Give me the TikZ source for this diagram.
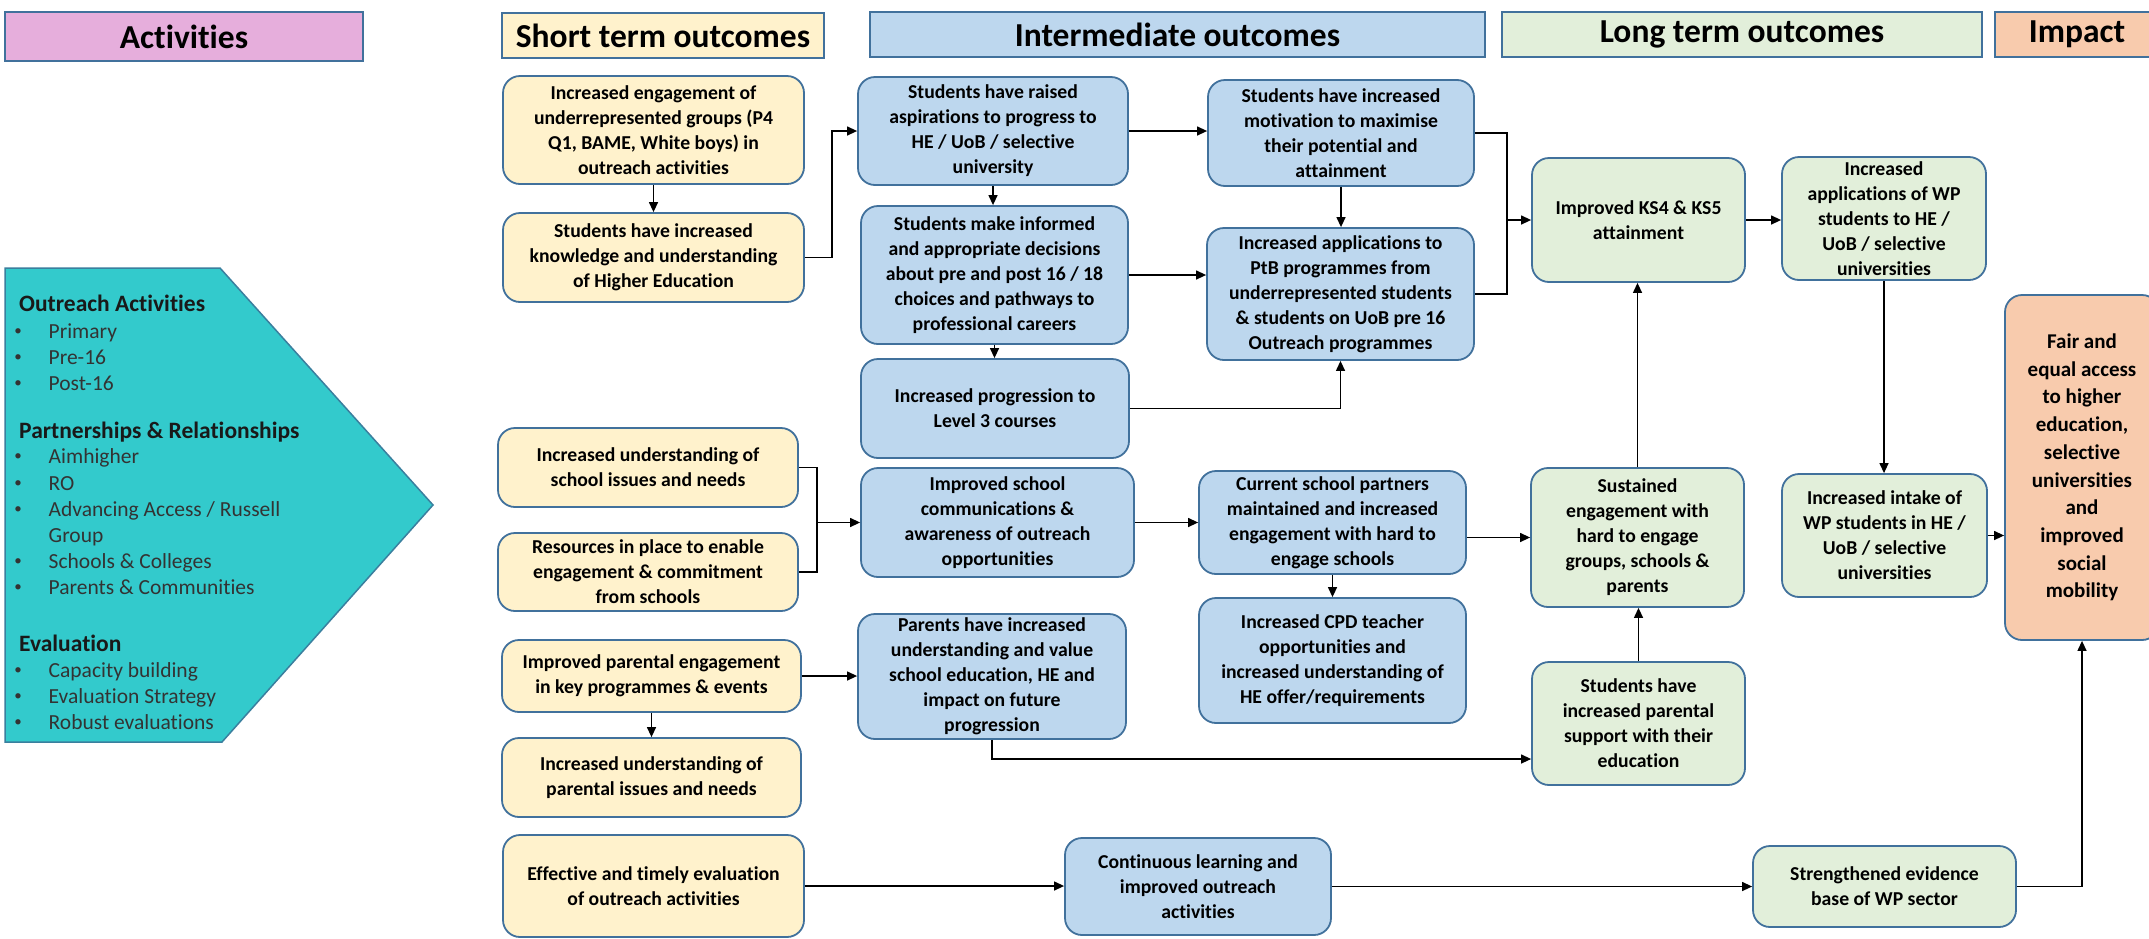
\documentclass[tikz,border=0pt]{standalone}
\usepackage{fontspec}
\setmainfont{Carlito}[Ligatures={NoCommon}]
\usetikzlibrary{arrows.meta,calc}

\definecolor{stYellow}{HTML}{FFF2CC}
\definecolor{stBlue}{HTML}{BDD7EE}
\definecolor{stGreen}{HTML}{E2EFDA}
\definecolor{stOrange}{HTML}{F8CBAD}
\definecolor{stPink}{HTML}{E6AEDC}
\definecolor{stTeal}{HTML}{33CACC}
\definecolor{edgeBlue}{HTML}{41719C}
\definecolor{chevEdge}{HTML}{3A7F9E}
\definecolor{itemGray}{HTML}{333333}

\begin{document}
\begin{tikzpicture}[x=1pt,y=-1pt,
  box/.style={draw=edgeBlue, line width=1.8pt, rounded corners=17pt, align=center,
    inner sep=0pt, font=\fontsize{19.7}{25}\selectfont\bfseries},
  ybox/.style={box, fill=stYellow},
  bbox/.style={box, fill=stBlue},
  gbox/.style={box, fill=stGreen},
  obox/.style={box, fill=stOrange, font=\fontsize{21}{27.7}\selectfont\bfseries},
  hdr/.style={draw=edgeBlue, line width=2pt, inner sep=0pt,
    font=\fontsize{33.5}{36}\selectfont\bfseries},
  arr/.style={line width=1.3pt, -{Triangle[length=10pt,width=9pt]}},
  link/.style={line width=1.3pt},
  chevhead/.style={anchor=base west, inner sep=0pt, font=\fontsize{23.5}{26}\selectfont\bfseries, text=black!90},
  chevitem/.style={anchor=base west, inner sep=0pt, font=\fontsize{21.5}{26}\selectfont, text=itemGray},
  chevdot/.style={anchor=base, inner sep=0pt, font=\fontsize{15}{26}\selectfont, text=itemGray}
]
\useasboundingbox (0,0) rectangle (2149,938);
\fill[white] (0,0) rectangle (2149,938);

% ---------- column headers ----------
\node[hdr, fill=stPink,   minimum width=358pt, minimum height=49pt] (HA) at (184,36.5)   {Activities};
\node[hdr, fill=stYellow, minimum width=322pt, minimum height=45pt] (HS) at (663,35.5)   {Short term outcomes};
\node[hdr, fill=stBlue,   minimum width=615pt, minimum height=45pt] (HI) at (1177.5,34.5) {Intermediate outcomes};
\node[hdr, fill=stGreen,  minimum width=480pt, minimum height=45pt] (HL) at (1742,34.5)   {Long term outcomes};
\node[hdr, fill=stOrange, minimum width=164pt, minimum height=45pt] (HM) at (2077,34.5)   {Impact};

% ---------- activities chevron ----------
\draw[fill=stTeal, draw=chevEdge, line width=1.5pt]
  (5,268) -- (220,268) -- (433,505) -- (222,742) -- (5,742) -- cycle;
\node[chevhead] (ca) at (19,311) {Outreach Activities};
\node[chevhead] (cb) at (19,438) {Partnerships \& Relationships};
\node[chevhead] (cc) at (19,651) {Evaluation};
\foreach \yy/\txt/\nm in {338/Primary/a1, 364/Pre-16/a2, 390/Post-16/a3,
    463/Aimhigher/b1, 490/RO/b2, 516/{Advancing Access / Russell}/b3,
    568/Schools \& Colleges/b4, 594/Parents \& Communities/b5,
    677/Capacity building/c1, 703/Evaluation Strategy/c2, 729/Robust evaluations/c3}{
  \node[chevdot] (d\nm) at (18,\yy-3) {•};
  \node[chevitem] (t\nm) at (48.5,\yy) {\txt};
}
\node[chevitem] (tb3b) at (48.5,542) {Group};

% ---------- short term outcomes ----------
\node[ybox, minimum width=301pt, minimum height=108pt] (S1) at (653.5,130)
  {Increased engagement of\\underrepresented groups (P4\\Q1, BAME, White boys) in\\outreach activities};
\node[ybox, minimum width=301pt, minimum height=89pt] (S2) at (653.5,257.5)
  {Students have increased\\knowledge and understanding\\of Higher Education};
\node[ybox, minimum width=300pt, minimum height=79pt] (S3) at (648,467.5)
  {Increased understanding of\\school issues and needs};
\node[ybox, minimum width=300pt, minimum height=78pt] (S4) at (648,572)
  {Resources in place to enable\\engagement \& commitment\\from schools};
\node[ybox, minimum width=299pt, minimum height=72pt] (S5) at (651.5,676)
  {Improved parental engagement\\in key programmes \& events};
\node[ybox, minimum width=299pt, minimum height=79pt] (S6) at (651.5,777.5)
  {Increased understanding of\\parental issues and needs};
\node[ybox, minimum width=301pt, minimum height=102pt] (S7) at (653.5,886)
  {Effective and timely evaluation\\of outreach activities};

% ---------- intermediate outcomes ----------
\node[bbox, minimum width=270pt, minimum height=108pt] (I1) at (993,131)
  {Students have raised\\aspirations to progress to\\HE / UoB / selective\\university};
\node[bbox, minimum width=267pt, minimum height=138pt] (I2) at (994.5,275)
  {Students make informed\\and appropriate decisions\\about pre and post 16 / 18\\choices and pathways to\\professional careers};
\node[bbox, minimum width=268pt, minimum height=99pt] (I3) at (995,408.5)
  {Increased progression to\\Level 3 courses};
\node[bbox, minimum width=273pt, minimum height=109pt] (I4) at (997.5,522.5)
  {Improved school\\communications \&\\awareness of outreach\\opportunities};
\node[bbox, minimum width=268pt, minimum height=125pt] (I5) at (992,676.5)
  {Parents have increased\\understanding and value\\school education, HE and\\impact on future\\progression};
\node[bbox, minimum width=266pt, minimum height=97pt] (I6) at (1198,886.5)
  {Continuous learning and\\improved outreach\\activities};
\node[bbox, minimum width=266pt, minimum height=106pt] (I7) at (1341,133)
  {Students have increased\\motivation to maximise\\their potential and\\attainment};
\node[bbox, minimum width=267pt, minimum height=132pt] (I8) at (1340.5,294)
  {Increased applications to\\PtB programmes from\\underrepresented students\\\& students on UoB pre 16\\Outreach programmes};
\node[bbox, minimum width=267pt, minimum height=103pt] (I9) at (1332.5,522.5)
  {Current school partners\\maintained and increased\\engagement with hard to\\engage schools};
\node[bbox, minimum width=267pt, minimum height=125pt] (I10) at (1332.5,660.5)
  {Increased CPD teacher\\opportunities and\\increased understanding of\\HE offer/requirements};

% ---------- long term outcomes ----------
\node[gbox, minimum width=213pt, minimum height=124pt] (L1) at (1638.5,220)
  {Improved KS4 \& KS5\\attainment};
\node[gbox, minimum width=204pt, minimum height=123pt] (L2) at (1884,218.5)
  {Increased\\applications of WP\\students to HE /\\UoB / selective\\universities};
\node[gbox, minimum width=213pt, minimum height=139pt] (L3) at (1637.5,537.5)
  {Sustained\\engagement with\\hard to engage\\groups, schools \&\\parents};
\node[gbox, minimum width=205pt, minimum height=123pt] (L4) at (1884.5,535.5)
  {Increased intake of\\WP students in HE /\\UoB / selective\\universities};
\node[gbox, minimum width=213pt, minimum height=123pt] (L5) at (1638.5,723.5)
  {Students have\\increased parental\\support with their\\education};
\node[gbox, minimum width=263pt, minimum height=81pt] (L6) at (1884.5,886.5)
  {Strengthened evidence\\base of WP sector};

% ---------- impact ----------
\node[obox, minimum width=154pt, minimum height=345pt] (IM) at (2082,467.5)
  {Fair and\\equal access\\to higher\\education,\\selective\\universities\\and\\improved\\social\\mobility};

% ---------- connectors ----------
\coordinate (jA) at (817,0);
\coordinate (jB) at (1507,0);

\draw[arr] (S1.south) -- (S1.south |- S2.north);
\draw[arr] (S2.east) -- ++(27,0) |- (I1.west);
\draw[arr] (I1.south) -- (I1.south |- I2.north);
\draw[arr] (I1.east) -- (I1.east -| I7.west);
\draw[arr] (I7.south) -- (I7.south |- I8.north);
\draw[arr] (I2.east) -- (I2.east -| I8.west);
\draw[arr] (I2.south) -- (I2.south |- I3.north);
\draw[arr] (I3.east) -| (I8.south);

\draw[link] (I7.east) -| (jB |- I8.east) -- (I8.east);
\draw[arr] (jB |- L1.west) -- (L1.west);
\draw[arr] (L1.east) -- (L1.east -| L2.west);
\draw[arr] (L2.south) -- (L2.south |- L4.north);
\draw[arr] (L4.east) -- (L4.east -| IM.west);

\draw[link] (S3.east) -| (jA |- S4.east) -- (S4.east);
\draw[arr] (jA |- I4.west) -- (I4.west);
\draw[arr] (I4.east) -- (I4.east -| I9.west);
\draw[arr] (I9.south) -- (I9.south |- I10.north);
\draw[arr] (I9.east |- L3.west) -- (L3.west);
\draw[arr] (L3.north) -- (L3.north |- L1.south);
\draw[arr] (L5.north) -- (L5.north |- L3.south);

\draw[arr] (S5.east) -- (S5.east -| I5.west);
\draw[arr] (S5.south) -- (S5.south |- S6.north);
\draw[arr] (I5.south) |- ([yshift=-35.5pt]L5.west);

\draw[arr] (S7.east) -- (S7.east -| I6.west);
\draw[arr] (I6.east) -- (I6.east -| L6.west);
\draw[arr] (L6.east) -| (IM.south);
\end{tikzpicture}
\end{document}
